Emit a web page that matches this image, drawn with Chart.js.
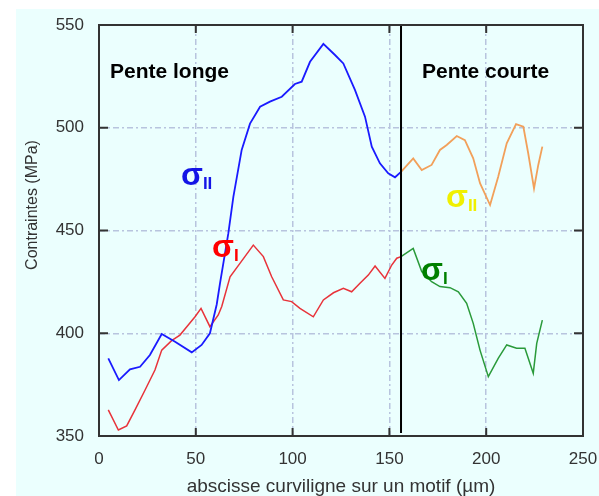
<!DOCTYPE html>
<html>
<head>
<meta charset="utf-8">
<script src="https://cdn.jsdelivr.net/npm/chart.js@4"></script>
<style>
  html, body { margin: 0; padding: 0; background: #fff; }
  #wrap { width: 599px; height: 496px; }
</style>
</head>
<body>
<div id="wrap"><canvas id="graphe" width="599" height="496"></canvas></div>
<script>
// Pente longe : sigma II (bleu) et sigma I (rouge)
const xBleu = [4.8, 10.3, 16, 21.2, 26.3, 32.4, 39.3, 47.9, 53, 57.3, 60.8, 62.5, 66.8, 69.4, 73.7, 78, 83.2, 88.3, 94.4, 101.2, 104.7, 109, 115.9, 121.9, 126.2, 132.2, 137.4, 140.9, 145.1, 149.4, 152.9, 156];
const yBleu = [387.8, 377.2, 382.4, 383.7, 389.4, 399.6, 395.9, 390.7, 394.3, 400, 414, 424.3, 448.6, 466.4, 489.2, 502, 510.2, 512.7, 515.1, 521.3, 522.4, 532.1, 540.8, 535.4, 531.3, 518.4, 505.4, 490.8, 482.7, 477.8, 475.9, 478.5];

const xRouge = [4.8, 10, 14.3, 18.6, 23.8, 28.9, 32.4, 37.5, 41.8, 46.1, 49.6, 52.7, 57.3, 61.6, 63.4, 67.7, 72.8, 79.7, 84.9, 89.2, 95.2, 99.5, 103.8, 110.7, 115.9, 121.1, 126.2, 130.5, 134.8, 139.1, 142.6, 147.7, 151.2, 153.8, 156];
const yRouge = [362.7, 352.9, 354.9, 362.7, 372.4, 382.1, 391.8, 396.4, 399.1, 404, 408, 412.1, 403.2, 408.9, 413, 427.5, 434, 442.9, 437.3, 427.5, 416.2, 415.4, 412.1, 408, 416.2, 419.7, 421.9, 420.2, 424.3, 428.3, 432.7, 426.7, 433.2, 436.5, 437.3];

// Pente courte : sigma II (orange) et sigma I (vert)
const xOrange = [156, 162.3, 166.7, 171.8, 176.1, 179.6, 184.8, 189, 193.3, 196.8, 202, 206.2, 210.6, 215.4, 219.2, 221.7, 224.7, 226.9, 229];
const yOrange = [478.5, 485.1, 479.4, 481.9, 489.2, 491.6, 496, 494, 485.1, 473, 462.4, 476.2, 492.4, 501.8, 500.5, 487.6, 470.5, 481.9, 490.8];

const xVert = [156, 162.3, 166.7, 171.8, 176.1, 181.3, 185.6, 189.9, 193.3, 196.8, 201.1, 206.2, 210.6, 215.7, 220, 224.3, 226.1, 229];
const yVert = [437.3, 441.3, 430, 425.1, 422.7, 422.2, 420.2, 414.6, 404.8, 391.8, 378.9, 387.8, 394.3, 392.7, 392.7, 380.5, 395.1, 406.4];

// axes
const ticksX = [0, 50, 100, 150, 200, 250];
const ticksY = [350, 400, 450, 500, 550];
const limite = 156; // separation pente longe / pente courte

const titreX = 'abscisse curviligne sur un motif (µm)';
const titreY = 'Contraintes (MPa)';

function points(xs, ys) {
    return xs.map((x, i) => ({ x: x, y: ys[i] }));
}

function serie(xs, ys, couleur, largeur) {
    return {
        data: points(xs, ys),
        borderColor: couleur,
        borderWidth: largeur,
        pointRadius: 0,
        tension: 0,
        fill: false
    };
}

// fond, cadre, graduations et textes
const decor = {
    id: 'decor',
    beforeDraw(chart) {
        const ctx = chart.ctx;
        ctx.save();
        ctx.fillStyle = '#ffffff';
        ctx.fillRect(0, 0, chart.width, chart.height);
        ctx.fillStyle = '#ebfffe';
        ctx.fillRect(16, 9, chart.width - 16, chart.height - 9);
        ctx.restore();
    },
    afterDatasetsDraw(chart) {
        const ctx = chart.ctx;
        const a = chart.chartArea;
        const sx = chart.scales.x, sy = chart.scales.y;
        ctx.save();

        // trait vertical de separation
        ctx.strokeStyle = '#000';
        ctx.lineWidth = 2;
        ctx.beginPath();
        ctx.moveTo(sx.getPixelForValue(limite), a.top);
        ctx.lineTo(sx.getPixelForValue(limite), a.bottom - 3);
        ctx.stroke();

        // cadre
        ctx.strokeStyle = '#333';
        ctx.lineWidth = 2;
        ctx.strokeRect(a.left, a.top, a.right - a.left, a.bottom - a.top);

        // graduations vers l'interieur
        ctx.lineWidth = 2;
        ctx.beginPath();
        ticksX.slice(1, -1).forEach(v => {
            const px = sx.getPixelForValue(v);
            ctx.moveTo(px, a.bottom); ctx.lineTo(px, a.bottom - 8);
            ctx.moveTo(px, a.top); ctx.lineTo(px, a.top + 8);
        });
        ticksY.slice(1, -1).forEach(v => {
            const py = sy.getPixelForValue(v);
            ctx.moveTo(a.left, py); ctx.lineTo(a.left + 9, py);
            ctx.moveTo(a.right, py); ctx.lineTo(a.right - 9, py);
        });
        ctx.stroke();

        // titres des axes
        ctx.fillStyle = '#333';
        ctx.font = '19px "Liberation Sans", Arial, sans-serif';
        ctx.textAlign = 'center';
        ctx.textBaseline = 'middle';
        ctx.fillText(titreX, (a.left + a.right) / 2, 487);
        ctx.save();
        ctx.translate(33, 205);
        ctx.rotate(-Math.PI / 2);
        ctx.font = '16px "Liberation Sans", Arial, sans-serif';
        ctx.fillText(titreY, 0, 0);
        ctx.restore();

        // zones
        ctx.fillStyle = '#000';
        ctx.font = 'bold 21px "Liberation Sans", Arial, sans-serif';
        ctx.textAlign = 'left';
        ctx.textBaseline = 'alphabetic';
        ctx.fillText('Pente longe', 110, 78);
        ctx.fillText('Pente courte', 422, 78);

        // etiquettes sigma
        const sigma = (x, y, indice, couleur) => {
            ctx.fillStyle = couleur;
            ctx.font = 'bold 32px "Liberation Sans", Arial, sans-serif';
            ctx.fillText('σ', x, y);
            const w = ctx.measureText('σ').width;
            ctx.font = 'bold 17px "Liberation Sans", Arial, sans-serif';
            ctx.fillText(indice, x + w, y + 4);
        };
        sigma(181, 185, 'II', '#1414e6');
        sigma(212, 257, 'I', '#ff0000');
        sigma(446, 207, 'II', '#f0f000');
        sigma(421, 280, 'I', '#008000');

        ctx.restore();
    }
};

const ctx = document.getElementById('graphe').getContext('2d');
new Chart(ctx, {
    type: 'line',
    data: {
        datasets: [
            serie(xBleu, yBleu, '#1a1aff', 1.8),
            serie(xRouge, yRouge, '#e8333a', 1.5),
            serie(xOrange, yOrange, '#f2a05a', 1.8),
            serie(xVert, yVert, '#2a9a3a', 1.5)
        ]
    },
    options: {
        responsive: false,
        animation: false,
        events: [],
        layout: { padding: { left: 0, top: 25, right: 16, bottom: 0 } },
        plugins: {
            legend: { display: false },
            tooltip: { enabled: false }
        },
        scales: {
            x: {
                type: 'linear',
                min: 0,
                max: 250,
                afterFit: s => { s.height = 60; s.paddingLeft = 0; s.paddingRight = 0; },
                afterBuildTicks: s => { s.ticks = ticksX.map(v => ({ value: v })); },
                grid: { color: '#b8c4de', lineWidth: 1.5, drawTicks: false },
                border: { display: false, dash: [6, 3, 2, 3] },
                ticks: {
                    color: '#333',
                    padding: 13,
                    font: { family: '"Liberation Sans", Arial, sans-serif', size: 17 }
                }
            },
            y: {
                type: 'linear',
                min: 350,
                max: 550,
                afterFit: s => { s.width = 99; s.paddingTop = 0; s.paddingBottom = 0; },
                afterBuildTicks: s => { s.ticks = ticksY.map(v => ({ value: v })); },
                grid: { color: '#b8c4de', lineWidth: 1.5, drawTicks: false },
                border: { display: false, dash: [6, 3, 2, 3] },
                ticks: {
                    color: '#333',
                    padding: 15,
                    font: { family: '"Liberation Sans", Arial, sans-serif', size: 17 }
                }
            }
        }
    },
    plugins: [decor]
});
</script>
</body>
</html>
